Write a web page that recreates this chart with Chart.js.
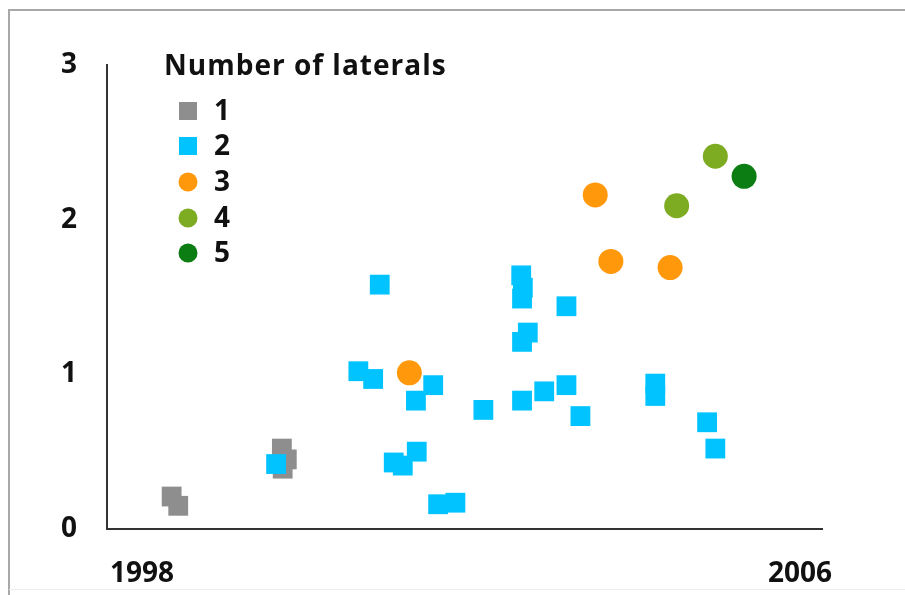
<!DOCTYPE html>
<html>
<head>
<meta charset="utf-8">
<script src="https://cdn.jsdelivr.net/npm/chart.js@4.4.0/dist/chart.umd.min.js"></script>
<style>
  body { margin: 0; background: #fff; }
  #wrap { width: 905px; height: 595px; position: relative; }
</style>
</head>
<body>
<div id="wrap"><canvas id="myChart"></canvas></div>
<script>
// legend title + series names
var legendTitle = 'Number of laterals';
var seriesNames = ['1', '2', '3', '4', '5'];
var xTickYears = [1998, 2006];
var yTickValues = [0, 1, 2, 3];

// 1 lateral
var lat1X = [1998.36, 1998.44, 1999.70, 1999.76, 1999.71];
var lat1Y = [0.21, 0.15, 0.52, 0.45, 0.39];

// 2 laterals
var lat2X = [1999.63, 2000.89, 2000.63, 2000.81, 2001.06, 2001.17, 2001.34, 2001.33, 2001.54,
             2001.60, 2001.81, 2002.15, 2002.61, 2002.63, 2002.62, 2002.69, 2002.62, 2003.16,
             2002.62, 2002.89, 2003.16, 2003.33, 2004.24, 2004.24, 2004.87, 2004.97];
var lat2Y = [0.42, 1.58, 1.02, 0.97, 0.43, 0.41, 0.50, 0.83, 0.93,
             0.16, 0.17, 0.77, 1.64, 1.56, 1.49, 1.27, 1.21, 1.44,
             0.83, 0.89, 0.93, 0.73, 0.94, 0.86, 0.69, 0.52];

// 3 laterals
var lat3X = [2001.25, 2003.51, 2003.70, 2004.42];
var lat3Y = [1.01, 2.16, 1.73, 1.69];

// 4 laterals
var lat4X = [2004.50, 2004.97];
var lat4Y = [2.09, 2.41];

// 5 laterals
var lat5X = [2005.32];
var lat5Y = [2.28];

function toPoints(xs, ys){
    var pts = [];
    for(var i = 0; i < xs.length; i++){
        pts.push({x: xs[i], y: ys[i]});
    }
    return pts;
}

var colors = ['#8e8e8e', '#00c3ff', '#ff980a', '#7dab22', '#0b7d12'];
var styles = ['rect', 'rect', 'circle', 'circle', 'circle'];
var radii = [14, 14, 12.5, 12.5, 12.5];
var allX = [lat1X, lat2X, lat3X, lat4X, lat5X];
var allY = [lat1Y, lat2Y, lat3Y, lat4Y, lat5Y];

var datasets = [];
for(var s = 0; s < seriesNames.length; s++){
    datasets.push({
        label: seriesNames[s],
        data: toPoints(allX[s], allY[s]),
        pointStyle: styles[s],
        pointRadius: radii[s],
        pointBorderWidth: 0,
        backgroundColor: colors[s],
        borderColor: colors[s],
        order: 5 - s
    });
}

var FONT = '"Open Sans", "DejaVu Sans", sans-serif';

// grey frame round the picture
var framePlugin = {
    id: 'frame',
    beforeDraw: function(chart){
        var c = chart.ctx;
        c.save();
        c.fillStyle = '#fff';
        c.fillRect(0, 0, chart.width, chart.height);
        c.strokeStyle = '#a8a8a8';
        c.lineWidth = 2;
        c.beginPath();
        c.moveTo(905, 10);
        c.lineTo(9, 10);
        c.lineTo(9, 595);
        c.stroke();
        c.strokeStyle = '#ececec';
        c.lineWidth = 1;
        c.beginPath();
        c.moveTo(9, 589.5);
        c.lineTo(905, 589.5);
        c.stroke();
        c.restore();
    }
};

// legend drawn inside the plot, top left
var legendPlugin = {
    id: 'innerLegend',
    afterDraw: function(chart){
        var c = chart.ctx;
        c.save();
        c.fillStyle = '#111';
        c.textBaseline = 'middle';
        c.textAlign = 'left';
        c.font = 'bold 28px ' + FONT;
        c.letterSpacing = '1px';
        c.fillText(legendTitle, 164, 67);
        c.letterSpacing = '0px';
        var rowY = [111, 146, 182, 218, 253];
        chart.data.datasets.forEach(function(ds, i){
            c.fillStyle = ds.backgroundColor;
            if(ds.pointStyle === 'rect'){
                c.fillRect(179, rowY[i] - 9, 18, 18);
            } else {
                c.beginPath();
                c.arc(188, rowY[i], 9.5, 0, Math.PI * 2);
                c.fill();
            }
            c.fillStyle = '#111';
            c.fillText(ds.label, 214, rowY[i] + 1);
        });
        c.restore();
    }
};

var ctx = document.getElementById('myChart').getContext('2d');
new Chart(ctx, {
    type: 'scatter',
    data: { datasets: datasets },
    plugins: [framePlugin, legendPlugin],
    options: {
        responsive: true,
        maintainAspectRatio: false,
        animation: false,
        events: [],
        layout: { padding: { left: 0, top: 65, right: 83, bottom: 0 } },
        plugins: {
            legend: { display: false },
            tooltip: { enabled: false }
        },
        scales: {
            x: {
                type: 'linear',
                min: 1997.574,
                max: 2006.267,
                grid: { display: false },
                border: { display: true, color: '#333', width: 2 },
                afterBuildTicks: function(scale){
                    scale.ticks = xTickYears.map(function(v){ return {value: v}; });
                },
                afterFit: function(scale){ scale.height = 66; },
                ticks: {
                    autoSkip: false,
                    maxRotation: 0,
                    padding: 20,
                    color: '#111',
                    font: { family: FONT, size: 28, weight: 'bold' },
                    callback: function(v){ return String(v); }
                }
            },
            y: {
                min: 0,
                max: 3,
                grid: { display: false },
                border: { display: true, color: '#333', width: 2 },
                afterBuildTicks: function(scale){
                    scale.ticks = yTickValues.map(function(v){ return {value: v}; });
                },
                afterFit: function(scale){ scale.width = 107; },
                ticks: {
                    padding: 22,
                    color: '#111',
                    font: { family: FONT, size: 28, weight: 'bold' }
                }
            }
        }
    }
});
</script>
</body>
</html>
